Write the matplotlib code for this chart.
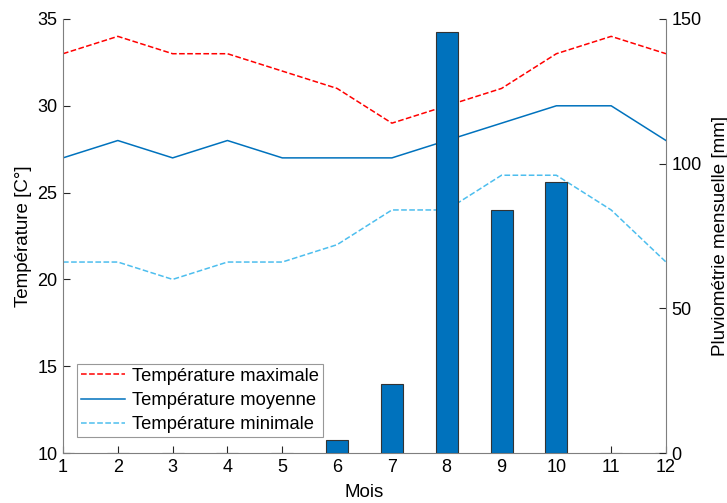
import matplotlib
matplotlib.use("Agg")
import matplotlib.pyplot as plt

plt.rcParams['font.family'] = ['Liberation Sans', 'DejaVu Sans']

# Données climatiques mensuelles
mois = [1, 2, 3, 4, 5, 6, 7, 8, 9, 10, 11, 12]
t_max = [33, 34, 33, 33, 32, 31, 29, 30, 31, 33, 34, 33]
t_moy = [27, 28, 27, 28, 27, 27, 27, 28, 29, 30, 30, 28]
t_min = [21, 21, 20, 21, 21, 22, 24, 24, 26, 26, 24, 21]
pluie = [0, 0, 0, 0, 0, 4.5, 24, 145.5, 84, 93.5, 0, 0]

AXE = '#262626'


def style_axes(ax):
    ax.tick_params(direction='in', colors=AXE, labelcolor='black', labelsize=13,
                   length=5, width=0.8, pad=4)
    for side in ax.spines.values():
        side.set_color('#7f7f7f')
        side.set_linewidth(0.8)
    ax.spines['top'].set_visible(False)


fig = plt.figure(figsize=(7.27, 5.03), dpi=100)
ax1 = fig.add_axes([63 / 727, 50 / 503, 603 / 727, 434 / 503])
ax2 = ax1.twinx()

l1, = ax1.plot(mois, t_max, '--', color='#FF0000', lw=1.1, label='Température maximale')
l2, = ax1.plot(mois, t_moy, '-', color='#0072BD', lw=1.1, label='Température moyenne')
l3, = ax1.plot(mois, t_min, '--', color='#4DBEEE', lw=1.1, label='Température minimale')

ax2.bar(mois, pluie, width=0.4, color='#0072BD', edgecolor='#333333', linewidth=0.8)

ax1.set_xlim(1, 12)
ax1.set_ylim(10, 35)
ax1.set_xticks(mois)
ax1.set_yticks([10, 15, 20, 25, 30, 35])
ax2.set_ylim(0, 150)
ax2.set_yticks([0, 50, 100, 150])

style_axes(ax1)
style_axes(ax2)
ax1.spines['right'].set_visible(False)
ax2.spines['left'].set_visible(False)
ax2.spines['bottom'].set_visible(False)

ax1.set_xlabel('Mois', fontsize=13.5, color='black', labelpad=6)
ax1.set_ylabel('Température [C°]', fontsize=13.5, color='black', labelpad=4)
ax2.set_ylabel('Pluviométrie mensuelle [mm]', fontsize=13.5, color='black', labelpad=7)

leg = ax2.legend(handles=[l1, l2, l3], loc='lower left', bbox_to_anchor=(0.023, 0.037),
                 fontsize=13.2, frameon=True, fancybox=False, borderaxespad=0,
                 handlelength=2.4, handletextpad=0.4, labelspacing=0.4,
                 borderpad=0.2)
leg.get_frame().set_edgecolor('#7f7f7f')
leg.get_frame().set_linewidth(0.8)

fig.savefig('out.png', dpi=100)
